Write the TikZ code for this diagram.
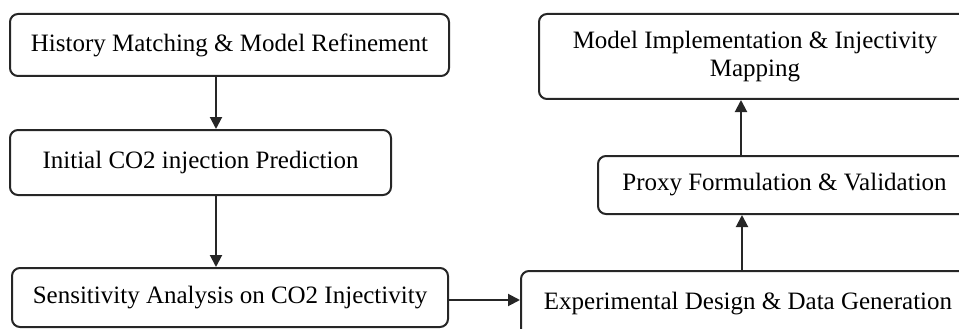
\documentclass[tikz,border=0pt]{standalone}
\usepackage{fontspec}
\setmainfont{Liberation Serif}
\usetikzlibrary{arrows.meta}
\begin{document}
\begin{tikzpicture}[x=1pt,y=-1pt,
  box/.style={draw=black!85, line width=2pt, rounded corners=8pt, align=center, inner sep=0pt,
    font=\fontsize{25}{28}\selectfont},
  arr/.style={draw=black!85, line width=2pt, -{Triangle[length=12pt,width=12pt]}}]
\useasboundingbox (0,0) rectangle (959,329);
\clip (0,0) rectangle (959,329);
\node[box, minimum width=439pt, minimum height=62pt] (b1) at (229.5,45) {History Matching \& Model Refinement};
\node[box, minimum width=381pt, minimum height=65pt] (b2) at (200.5,162.5) {Initial CO2 injection Prediction};
\node[box, minimum width=436pt, minimum height=59pt] (b3) at (230,297.5) {Sensitivity Analysis on CO2 Injectivity};
\node[box, minimum width=432pt, minimum height=85pt] (b4) at (755,56.5) {Model Implementation \& Injectivity\\Mapping};
\node[box, minimum width=373pt, minimum height=58pt] (b5) at (784.5,185) {Proxy Formulation \& Validation};
\node[box, minimum width=454pt, minimum height=65pt] (b6) at (748,303.5) {Experimental Design \& Data Generation};
\coordinate (xl) at (216,0);
\coordinate (xr1) at (742,0);
\coordinate (xr2) at (741,0);
\coordinate (yh) at (0,300);
\draw[arr] (b1.south -| xl) -- (b2.north -| xl);
\draw[arr] (b2.south -| xl) -- (b3.north -| xl);
\draw[arr] (b3.east |- yh) -- (b6.west |- yh);
\draw[arr] (b6.north -| xr1) -- (b5.south -| xr1);
\draw[arr] (b5.north -| xr2) -- (b4.south -| xr2);
\end{tikzpicture}
\end{document}
